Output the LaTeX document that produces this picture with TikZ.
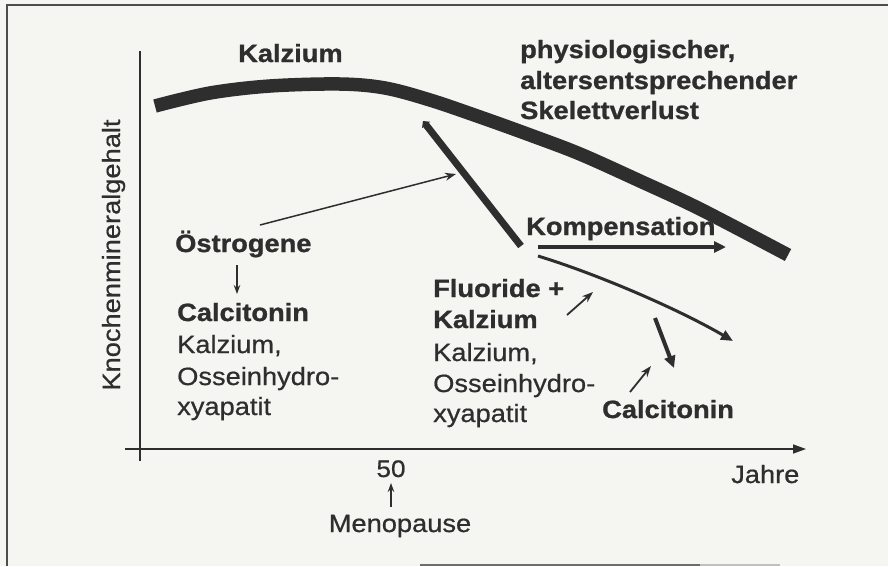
\documentclass[tikz,border=0pt]{standalone}
\usepackage{fontspec}
\setmainfont{Liberation Sans}[FakeStretch=1.09, UprightFeatures={FakeBold=0.6}, BoldFeatures={FakeBold=1.0}]
\usetikzlibrary{arrows.meta}
\definecolor{ink}{HTML}{2E2E2E}
\definecolor{paper}{HTML}{F5F5F2}
\begin{document}
\begin{tikzpicture}[x=1pt,y=-1pt,
  lbl/.style={text=ink, inner sep=0pt, anchor=base west, font=\fontsize{25}{30}\selectfont},
  blbl/.style={lbl, font=\fontsize{25}{30}\selectfont\bfseries},
  thin/.style={draw=ink, line width=1.5pt, -{Stealth[length=11pt,width=8pt]}},
  thick/.style={draw=ink, line width=4pt, -{Triangle[length=12pt,width=11pt]}},
  band/.style={draw=ink, line width=13.5pt, line cap=butt}]
\useasboundingbox (0,0) rectangle (888,566);
\fill[paper] (0,0) rectangle (888,566);
% frame
\draw[ink!85, line width=1.5pt] (7,566) -- (7,5) -- (888,5);
\draw[ink!70, line width=2pt] (420,565) -- (700,565);
\draw[ink!30, line width=1.5pt] (700,565) -- (780,565);

% axes
\coordinate (yt) at (140,51);
\coordinate (yb) at (140,461);
\coordinate (xl) at (125,449);
\coordinate (xr) at (806,449);
\draw[ink, line width=1.5pt] (yt) -- (yb);
\draw[ink, line width=1.5pt, -{Triangle[length=13pt,width=9pt]}] (xl) -- (xr);

% main curve
\draw[band] plot[smooth, tension=0.55] coordinates {(155,106) (210,93) (270,86) (340,84) (385,88) (430,100) (480,117) (530,135) (580,154) (640,181) (700,209) (788,255)};

% steep fall
\coordinate (fallT) at (423,121);
\coordinate (fallB) at (521,246);
\draw[ink, line width=7pt, {Triangle[length=5pt,width=10pt]}-] (fallT) -- (fallB);

% labels
\node[blbl] (kal) at (238,62) {Kalzium};
\node[blbl] (phys1) at (520,58) {physiologischer,};
\node[blbl] (phys2) at (520,89) {altersentsprechender};
\node[blbl] (phys3) at (520,119) {Skelettverlust};
\node[blbl] (oest) at (175,252) {Östrogene};
\node[blbl] (calc1) at (177,321) {Calcitonin};
\node[lbl] (kal1) at (177,353) {Kalzium,};
\node[lbl] (oss1) at (177,385) {Osseinhydro-};
\node[lbl] (xya1) at (177,415) {xyapatit};
\node[blbl] (komp) at (526,235) {Kompensation};
\node[blbl] (fluo) at (433,297) {Fluoride +};
\node[blbl] (kal2) at (433,328) {Kalzium};
\node[lbl] (kal3) at (433,361) {Kalzium,};
\node[lbl] (oss2) at (433,392) {Osseinhydro-};
\node[lbl] (xya2) at (433,422) {xyapatit};
\node[blbl] (calc2) at (602,418) {Calcitonin};
\node[lbl, anchor=base, font=\fontsize{24}{28}\selectfont] (fifty) at (391,477) {50};
\node[lbl, anchor=base] (meno) at (400,532) {Menopause};
\node[lbl] (jahre) at (731,483) {Jahre};
\node[lbl, rotate=90, anchor=base] (ylab) at (120,255) {Knochenmineralgehalt};

% connectors
\coordinate (oestA) at (260,225);
\coordinate (hitA) at (456,174);
\draw[thin] (oestA) -- (hitA);
\coordinate (oestD1) at (237,265);
\coordinate (oestD2) at (237,294);
\draw[draw=ink, line width=1.5pt, -{Stealth[length=9pt,width=6.5pt]}] (oestD1) -- (oestD2);

\coordinate (kompS) at (538,247);
\coordinate (kompE) at (726,247);
\draw[thick] (kompS) -- (kompE);
\coordinate (curS) at (538,256);
\coordinate (curE) at (733,341);
\draw[draw=ink, line width=3pt, -{Triangle[length=12pt,width=10pt]}] (curS) .. controls (600,275) and (680,310) .. (curE);

\coordinate (fluS) at (567,315);
\coordinate (fluE) at (593,292);
\draw[thin, line width=1.8pt] (fluS) -- (fluE);
\coordinate (calS) at (630,392);
\coordinate (calE) at (651,366);
\draw[thin, line width=1.8pt] (calS) -- (calE);
\coordinate (dwnS) at (655,318);
\coordinate (dwnE) at (674,368);
\draw[thick] (dwnS) -- (dwnE);

\coordinate (menS) at (391,507);
\coordinate (menE) at (391,483);
\draw[draw=ink, line width=1.5pt, -{Stealth[length=9pt,width=6.5pt]}] (menS) -- (menE);
\end{tikzpicture}
\end{document}
